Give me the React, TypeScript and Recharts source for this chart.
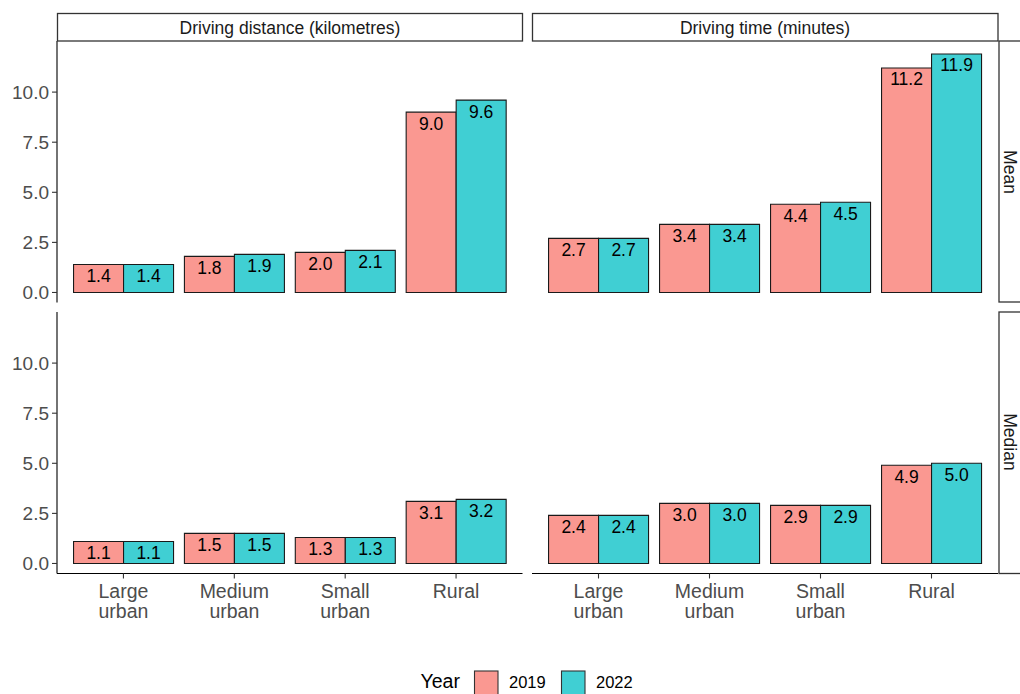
import React from 'react';
import { Bar, BarChart, LabelList, XAxis, YAxis } from 'recharts';

const categories = ['Large urban', 'Medium urban', 'Small urban', 'Rural'];

const distanceMean2019 = [1.4, 1.8, 2.0, 9.0];
const distanceMean2022 = [1.4, 1.9, 2.1, 9.6];
const timeMean2019 = [2.7, 3.4, 4.4, 11.2];
const timeMean2022 = [2.7, 3.4, 4.5, 11.9];
const distanceMedian2019 = [1.1, 1.5, 1.3, 3.1];
const distanceMedian2022 = [1.1, 1.5, 1.3, 3.2];
const timeMedian2019 = [2.4, 3.0, 2.9, 4.9];
const timeMedian2022 = [2.4, 3.0, 2.9, 5.0];

const yTicks = [0, 2.5, 5, 7.5, 10];
const years = ['2019', '2022'];

const PINK = '#FA9891';
const TEAL = '#40CFD3';
const FONT = '"Liberation Sans", Arial, Helvetica, sans-serif';

function rows(a: number[], b: number[]) {
	return categories.map((c, i) => ({ category: c, y2019: a[i], y2022: b[i] }));
}

const XTick = (props: any) => {
	const { x, y, payload } = props;
	const lines = String(payload.value).split(' ');
	return (
		<text x={x} y={y} textAnchor="middle" fill="#4D4D4D" fontSize={19.5} fontFamily={FONT}>
			{lines.map((l, i) => (
				<tspan key={i} x={x} dy={i === 0 ? 17.5 : 20}>
					{l}
				</tspan>
			))}
		</text>
	);
};

type PanelProps = {
	left: number;
	top: number;
	data: { category: string; y2019: number; y2022: number }[];
	showY: boolean;
	showX: boolean;
};

function Panel({ left, top, data, showY, showX }: PanelProps) {
	const plotH = 261.5;
	const xh = showX ? 60 : 0;
	const width = showY ? 522.5 : 466;
	return (
		<div style={{ position: 'absolute', left, top }}>
			<BarChart
				width={width}
				height={plotH + xh}
				data={data}
				margin={{ top: 0, right: 0, bottom: 0, left: 0 }}
				barCategoryGap="5%"
				barGap={0}
				style={{ overflow: 'visible' }}
			>
				<XAxis
					dataKey="category"
					hide={!showX}
					height={xh}
					padding={{ left: 11, right: 11 }}
					interval={0}
					tick={<XTick />}
					tickSize={5}
					tickMargin={2}
					axisLine={{ stroke: '#000', strokeWidth: 1.1 }}
					tickLine={{ stroke: '#333', strokeWidth: 1.1 }}
				/>
				<YAxis
					type="number"
					hide={!showY}
					width={57}
					domain={[-0.5, 12.55]}
					allowDataOverflow
					ticks={yTicks}
					interval={0}
					tickFormatter={(v: number) => v.toFixed(1)}
					tickSize={5}
					tickMargin={3}
					tick={{ fill: '#4D4D4D', fontSize: 19, fontFamily: FONT }}
					axisLine={{ stroke: '#000', strokeWidth: 1.1 }}
					tickLine={{ stroke: '#333', strokeWidth: 1.1 }}
				/>
				<Bar dataKey="y2019" fill={PINK} stroke="#1a1a1a" strokeWidth={1.1} isAnimationActive={false}>
					<LabelList
						dataKey="y2019"
						position="insideTop"
						offset={5}
						formatter={(v: any) => Number(v).toFixed(1)}
						fill="#000"
						fontSize={17.5}
						fontFamily={FONT}
					/>
				</Bar>
				<Bar dataKey="y2022" fill={TEAL} stroke="#1a1a1a" strokeWidth={1.1} isAnimationActive={false}>
					<LabelList
						dataKey="y2022"
						position="insideTop"
						offset={5}
						formatter={(v: any) => Number(v).toFixed(1)}
						fill="#000"
						fontSize={17.5}
						fontFamily={FONT}
					/>
				</Bar>
			</BarChart>
		</div>
	);
}

export default function App() {
	return (
		<div style={{ position: 'absolute', left: 0, top: 0, width: 1020, height: 694, overflow: 'hidden', background: '#fff' }}>
			<Panel left={0} top={41} data={rows(distanceMean2019, distanceMean2022)} showY showX={false} />
			<Panel left={532} top={41} data={rows(timeMean2019, timeMean2022)} showY={false} showX={false} />
			<Panel left={0} top={312} data={rows(distanceMedian2019, distanceMedian2022)} showY showX />
			<Panel left={532} top={312} data={rows(timeMedian2019, timeMedian2022)} showY={false} showX />
			<svg
				width={1020}
				height={694}
				style={{ position: 'absolute', left: 0, top: 0, pointerEvents: 'none' }}
				fontFamily={FONT}
			>
				{/* column strips */}
				<rect x={57.5} y={13.5} width={465} height={27.5} fill="#fff" stroke="#333" strokeWidth={1.3} />
				<text x={290} y={27.5} textAnchor="middle" dominantBaseline="central" fontSize={17.5} fill="#1A1A1A">
					Driving distance (kilometres)
				</text>
				<rect x={532.5} y={13.5} width={465.5} height={27.5} fill="#fff" stroke="#333" strokeWidth={1.3} />
				<text x={765} y={27.5} textAnchor="middle" dominantBaseline="central" fontSize={17.5} fill="#1A1A1A">
					Driving time (minutes)
				</text>
				{/* row strips */}
				<rect x={999} y={41} width={30} height={261} fill="#fff" stroke="#333" strokeWidth={1.3} />
				<text
					x={1010}
					y={172}
					textAnchor="middle"
					dominantBaseline="central"
					fontSize={17.5}
					fill="#1A1A1A"
					transform="rotate(90 1010 172)"
				>
					Mean
				</text>
				<rect x={999} y={312} width={30} height={261.5} fill="#fff" stroke="#333" strokeWidth={1.3} />
				<text
					x={1010}
					y={442}
					textAnchor="middle"
					dominantBaseline="central"
					fontSize={17.5}
					fill="#1A1A1A"
					transform="rotate(90 1010 442)"
				>
					Median
				</text>
				{/* legend */}
				<text x={420.5} y={688} fontSize={19.5} fill="#000">
					Year
				</text>
				<rect x={474.5} y={671} width={23.5} height={24} fill={PINK} stroke="#333" strokeWidth={1.1} />
				<text x={509} y={688} fontSize={16.5} fill="#000">
					{years[0]}
				</text>
				<rect x={561.5} y={671} width={23.5} height={24} fill={TEAL} stroke="#333" strokeWidth={1.1} />
				<text x={596} y={688} fontSize={16.5} fill="#000">
					{years[1]}
				</text>
			</svg>
		</div>
	);
}
